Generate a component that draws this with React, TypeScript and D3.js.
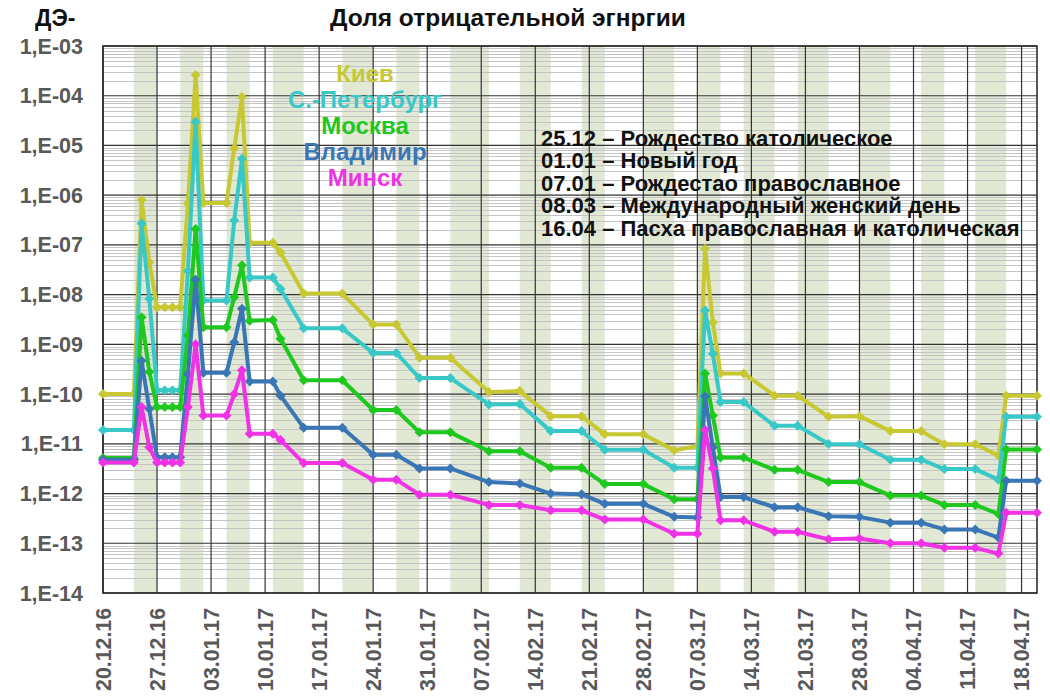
import { useRef, useEffect } from 'react';
import * as d3 from 'd3';

// measurement dates
const dates = [
  '2016-12-20', '2016-12-24', '2016-12-25', '2016-12-26', '2016-12-27', '2016-12-28',
  '2016-12-29', '2016-12-30', '2016-12-31', '2017-01-01', '2017-01-02', '2017-01-05',
  '2017-01-06', '2017-01-07', '2017-01-08', '2017-01-11', '2017-01-12', '2017-01-15',
  '2017-01-20', '2017-01-24', '2017-01-27', '2017-01-30', '2017-02-03', '2017-02-08',
  '2017-02-12', '2017-02-16', '2017-02-20', '2017-02-23', '2017-02-28', '2017-03-04',
  '2017-03-07', '2017-03-08', '2017-03-09', '2017-03-10', '2017-03-13', '2017-03-17',
  '2017-03-20', '2017-03-24', '2017-03-28', '2017-04-01', '2017-04-05', '2017-04-08',
  '2017-04-12', '2017-04-15', '2017-04-16', '2017-04-20',
];

const kiev = [
  1e-10, 1e-10, 8e-7, 4.5e-8, 5.6e-9, 5.6e-9, 5.6e-9, 5.6e-9, 6.8e-7, 2.6e-4, 7e-7, 7e-7,
  8.7e-6, 9.4e-5, 1.1e-7, 1.1e-7, 7e-8, 1.05e-8, 1.05e-8, 2.5e-9, 2.5e-9, 5.4e-10, 5.4e-10, 1.1e-10,
  1.15e-10, 3.6e-11, 3.6e-11, 1.55e-11, 1.55e-11, 7.4e-12, 8.9e-12, 8.4e-8, 2.8e-9, 2.6e-10, 2.6e-10, 9.3e-11,
  9.3e-11, 3.5e-11, 3.6e-11, 1.8e-11, 1.8e-11, 9.8e-12, 9.8e-12, 5.8e-12, 9.3e-11, 9.3e-11,
];
const spb = [
  1.9e-11, 1.9e-11, 2.7e-7, 8.3e-9, 1.2e-10, 1.2e-10, 1.2e-10, 1.2e-10, 3e-8, 3e-5, 7.6e-9, 7.6e-9,
  3.1e-7, 5.4e-6, 2.2e-8, 2.2e-8, 1.3e-8, 2.1e-9, 2.1e-9, 6.7e-10, 6.7e-10, 2.1e-10, 2.1e-10, 6.2e-11,
  6.3e-11, 1.8e-11, 1.8e-11, 7.6e-12, 7.6e-12, 3.3e-12, 3.3e-12, 4.8e-9, 6.5e-10, 6.9e-11, 6.9e-11, 2.3e-11,
  2.3e-11, 9.9e-12, 9.8e-12, 4.8e-12, 4.8e-12, 3.1e-12, 3.1e-12, 1.9e-12, 3.5e-11, 3.5e-11,
];
const moscow = [
  5.2e-12, 5.2e-12, 3.5e-9, 2.8e-10, 5.5e-11, 5.5e-11, 5.5e-11, 5.5e-11, 1.5e-9, 2.1e-7, 2.2e-9, 2.2e-9,
  8.9e-9, 3.9e-8, 3e-9, 3.1e-9, 1.3e-9, 1.9e-10, 1.9e-10, 4.8e-11, 4.8e-11, 1.7e-11, 1.7e-11, 7.1e-12,
  7.1e-12, 3.3e-12, 3.3e-12, 1.55e-12, 1.55e-12, 7.7e-13, 7.7e-13, 2.6e-10, 3.7e-11, 5.3e-12, 5.3e-12, 3e-12,
  3e-12, 1.7e-12, 1.7e-12, 9.1e-13, 9.1e-13, 5.9e-13, 5.9e-13, 3.9e-13, 7.7e-12, 7.7e-12,
];
const vladimir = [
  4.8e-12, 4.8e-12, 4.7e-10, 5e-11, 5.4e-12, 5.4e-12, 5.4e-12, 5.4e-12, 2.5e-10, 2e-8, 2.7e-10, 2.7e-10,
  1.1e-9, 5.2e-9, 1.8e-10, 1.8e-10, 9.3e-11, 2.1e-11, 2.1e-11, 6e-12, 6e-12, 3.2e-12, 3.2e-12, 1.7e-12,
  1.6e-12, 1e-12, 9.7e-13, 6.2e-13, 6.2e-13, 3.4e-13, 3.3e-13, 9e-11, 8.5e-12, 8.5e-13, 8.5e-13, 5.3e-13,
  5.3e-13, 3.5e-13, 3.4e-13, 2.6e-13, 2.6e-13, 1.9e-13, 1.9e-13, 1.3e-13, 1.8e-12, 1.8e-12,
];
const minsk = [
  4.2e-12, 4.2e-12, 5.5e-11, 8.5e-12, 4.2e-12, 4.2e-12, 4.2e-12, 4.2e-12, 5.5e-11, 1e-9, 3.7e-11, 3.7e-11,
  1e-10, 3e-10, 1.6e-11, 1.6e-11, 1.2e-11, 4.1e-12, 4.1e-12, 1.9e-12, 1.9e-12, 9.5e-13, 9.5e-13, 5.9e-13,
  5.9e-13, 4.6e-13, 4.6e-13, 3e-13, 3e-13, 1.55e-13, 1.55e-13, 1.9e-11, 3.2e-12, 2.9e-13, 2.9e-13, 1.7e-13,
  1.7e-13, 1.2e-13, 1.25e-13, 1e-13, 1e-13, 8.1e-14, 8.1e-14, 6.2e-14, 4.1e-13, 4.1e-13,
];

const seriesNames = ['Киев', 'С.-Петербург', 'Москва', 'Владимир', 'Минск'];
const seriesValues = [kiev, spb, moscow, vladimir, minsk];
const seriesColors = ['#c8c832', '#38c8c8', '#1ec81e', '#3a76b6', '#f032e6'];

// shaded periods
const bandStarts = [
  '2016-12-24', '2016-12-30', '2017-01-05', '2017-01-11', '2017-01-20', '2017-01-27',
  '2017-02-03', '2017-02-12', '2017-02-20', '2017-02-28', '2017-03-07', '2017-03-13',
  '2017-03-20', '2017-03-28', '2017-04-05', '2017-04-12',
];
const bandEnds = [
  '2016-12-27', '2017-01-02', '2017-01-08', '2017-01-15', '2017-01-24', '2017-01-30',
  '2017-02-08', '2017-02-16', '2017-02-23', '2017-03-04', '2017-03-10', '2017-03-17',
  '2017-03-24', '2017-04-01', '2017-04-08', '2017-04-16',
];

const yTickValues = [1e-3, 1e-4, 1e-5, 1e-6, 1e-7, 1e-8, 1e-9, 1e-10, 1e-11, 1e-12, 1e-13, 1e-14];
const yTickLabels = ['1,E-03', '1,E-04', '1,E-05', '1,E-06', '1,E-07', '1,E-08', '1,E-09', '1,E-10', '1,E-11', '1,E-12', '1,E-13', '1,E-14'];

const notes = [
  '25.12 – Рождество католическое',
  '01.01 – Новый год',
  '07.01 – Рождестао православное',
  '08.03 – Международный женский день',
  '16.04 – Пасха православная и католическая',
];

const title = 'Доля отрицательной эгнргии';
const yTitle = 'ДЭ-';

export default function App() {
  const svgRef = useRef<SVGSVGElement>(null);
  const width = 1050;
  const height = 700;

  useEffect(() => {
    if (!svgRef.current) return;
    const svg = d3.select(svgRef.current);
    svg.selectAll('*').remove();

    const parse = d3.utcParse('%Y-%m-%d');
    const xs = dates.map((d) => parse(d)!);

    const margin = { top: 46, right: 13, bottom: 107, left: 103 };
    const innerWidth = width - margin.left - margin.right;
    const innerHeight = height - margin.top - margin.bottom;
    const font = '"Liberation Sans", Arial, sans-serif';

    const x = d3.scaleUtc()
      .domain([parse('2016-12-20')!, parse('2017-04-20')!])
      .range([0, innerWidth]);
    const y = d3.scaleLog().domain([1e-14, 1e-3]).range([innerHeight, 0]);

    const g = svg.append('g').attr('transform', `translate(${margin.left},${margin.top})`);

    // shaded bands
    g.selectAll('rect.band')
      .data(bandStarts.map((s, i) => [parse(s)!, parse(bandEnds[i])!]))
      .join('rect')
      .attr('class', 'band')
      .attr('x', (d) => x(d[0]))
      .attr('width', (d) => x(d[1]) - x(d[0]))
      .attr('y', 0)
      .attr('height', innerHeight)
      .attr('fill', '#e1e9d5');

    // minor horizontal grid
    const minor: number[] = [];
    for (let e = -14; e < -3; e++) for (let k = 2; k <= 9; k++) minor.push(k * Math.pow(10, e));
    g.append('g')
      .selectAll('line')
      .data(minor)
      .join('line')
      .attr('x1', 0)
      .attr('x2', innerWidth)
      .attr('y1', (d) => Math.round(y(d)) + 0.5)
      .attr('y2', (d) => Math.round(y(d)) + 0.5)
      .attr('stroke', '#c4c4c4')
      .attr('stroke-width', 1);

    // major horizontal grid
    g.append('g')
      .selectAll('line')
      .data(yTickValues)
      .join('line')
      .attr('x1', 0)
      .attr('x2', innerWidth)
      .attr('y1', (d) => y(d))
      .attr('y2', (d) => y(d))
      .attr('stroke', '#333')
      .attr('stroke-width', 1.2);

    // weekly vertical grid
    const weekTicks = d3.utcDay.range(x.domain()[0], x.domain()[1], 7);
    g.append('g')
      .selectAll('line')
      .data(weekTicks)
      .join('line')
      .attr('x1', (d) => x(d))
      .attr('x2', (d) => x(d))
      .attr('y1', 0)
      .attr('y2', innerHeight)
      .attr('stroke', '#333')
      .attr('stroke-width', 1.2);

    g.append('rect')
      .attr('width', innerWidth)
      .attr('height', innerHeight)
      .attr('fill', 'none')
      .attr('stroke', '#222')
      .attr('stroke-width', 1.5);

    // Series lines + diamond markers
    const line = d3.line<number>()
      .x((_, i) => x(xs[i]))
      .y((d) => y(d));
    const diamond = 'M0,-5L5,0L0,5L-5,0Z';

    seriesValues.forEach((vals, si) => {
      const sg = g.append('g');
      sg.append('path')
        .datum(vals)
        .attr('d', line)
        .attr('fill', 'none')
        .attr('stroke', seriesColors[si])
        .attr('stroke-width', 4)
        .attr('stroke-linejoin', 'round');
      sg.selectAll('path.m')
        .data(vals)
        .join('path')
        .attr('class', 'm')
        .attr('d', diamond)
        .attr('transform', (d, i) => `translate(${x(xs[i])},${y(d)})`)
        .attr('fill', seriesColors[si]);
    });

    // Y labels
    g.append('g')
      .selectAll('text')
      .data(yTickValues)
      .join('text')
      .attr('x', -20)
      .attr('y', (d) => y(d))
      .attr('dy', '0.35em')
      .attr('text-anchor', 'end')
      .attr('font-family', font)
      .attr('font-weight', 'bold')
      .attr('font-size', 21.5)
      .attr('fill', '#595959')
      .text((_, i) => yTickLabels[i]);

    // X labels
    const fmt = d3.utcFormat('%d.%m.%y');
    g.append('g')
      .selectAll('text')
      .data(weekTicks)
      .join('text')
      .attr('transform', (d) => `translate(${x(d)},${innerHeight + 15}) rotate(-90)`)
      .attr('dy', '0.36em')
      .attr('text-anchor', 'end')
      .attr('font-family', font)
      .attr('font-weight', 'bold')
      .attr('font-size', 21.3)
      .attr('fill', '#595959')
      .text((d) => fmt(d));

    // Legend (coloured names)
    svg.append('g')
      .selectAll('text')
      .data(seriesNames)
      .join('text')
      .attr('x', 365)
      .attr('y', (_, i) => 82 + i * 26)
      .attr('text-anchor', 'middle')
      .attr('font-family', font)
      .attr('font-weight', 'bold')
      .attr('font-size', 24)
      .attr('fill', (_, i) => seriesColors[i])
      .text((d) => d);

    // Holiday notes
    svg.append('g')
      .selectAll('text')
      .data(notes)
      .join('text')
      .attr('x', 541)
      .attr('y', (_, i) => 146 + i * 22.4)
      .attr('font-family', font)
      .attr('font-weight', 'bold')
      .attr('font-size', 22)
      .attr('fill', '#111')
      .text((d) => d);

    svg.append('text')
      .attr('x', 508)
      .attr('y', 26)
      .attr('text-anchor', 'middle')
      .attr('font-family', font)
      .attr('font-weight', 'bold')
      .attr('font-size', 24.5)
      .attr('fill', '#111')
      .text(title);

    svg.append('text')
      .attr('x', 35)
      .attr('y', 26)
      .attr('font-family', font)
      .attr('font-weight', 'bold')
      .attr('font-size', 23)
      .attr('fill', '#111')
      .text(yTitle);
  }, []);

  return (
    <svg
      ref={svgRef}
      width={width}
      height={height}
      viewBox={`0 0 ${width} ${height}`}
      style={{ position: 'absolute', left: 0, top: 0, background: '#fff' }}
    />
  );
}
